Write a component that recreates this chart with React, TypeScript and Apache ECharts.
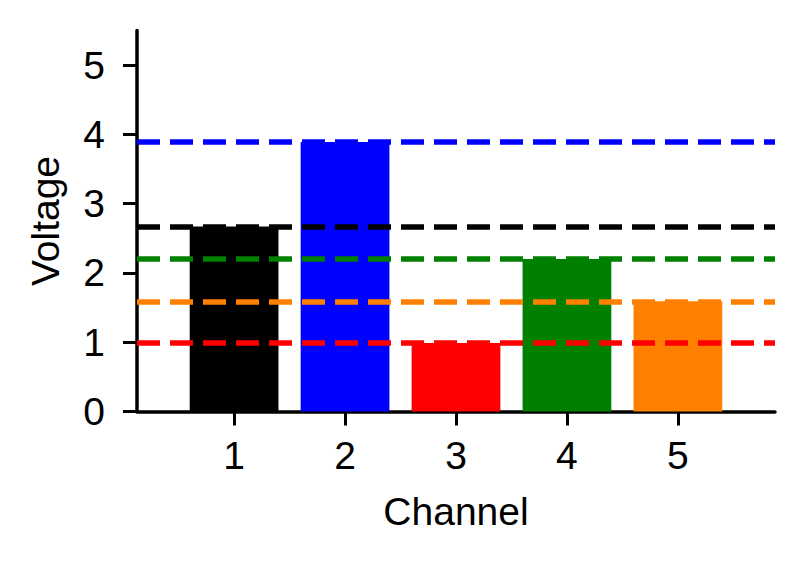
import React, { useEffect, useRef } from "react";
import * as echarts from "echarts";

const channels = [1, 2, 3, 4, 5];
const voltages = [2.67, 3.89, 0.99, 2.2, 1.59];
const barColors = ["#000000", "#0000ff", "#ff0000", "#008000", "#ff8000"];
const yTicks = [0, 1, 2, 3, 4, 5];

const FONT = "Liberation Sans, Arial, sans-serif";
const FS = 39;

export default function App() {
  const ref = useRef<HTMLDivElement>(null);
  useEffect(() => {
    if (!ref.current) return;
    const chart = echarts.init(ref.current, undefined, { renderer: "svg" });
    const gridLeft = 137;
    const gridRight = 29;
    const xMin = 0.125;
    const xMax = 5.875;
    const gridWidth = 804 - gridLeft - gridRight;
    const barWidth = (0.8 * gridWidth) / (xMax - xMin);
    const axisLine = { show: true, lineStyle: { color: "#000", width: 3.5 } };
    const axisTick = { show: true, length: 14, lineStyle: { color: "#000", width: 3 } };
    chart.setOption({
      animation: false,
      backgroundColor: "#ffffff",
      grid: { left: gridLeft, right: gridRight, top: 30.5, bottom: 152.5 },
      xAxis: {
        type: "value",
        min: xMin,
        max: xMax,
        name: "Channel",
        nameLocation: "middle",
        nameGap: 80,
        nameTextStyle: { color: "#000", fontSize: FS, fontFamily: FONT },
        axisLine,
        axisTick: { ...axisTick, customValues: channels },
        axisLabel: {
          customValues: channels,
          color: "#000",
          fontSize: FS,
          fontFamily: FONT,
          margin: 24,
        },
        splitLine: { show: false },
      },
      yAxis: {
        type: "value",
        min: 0,
        max: 5.5,
        name: "Voltage",
        nameLocation: "middle",
        nameGap: 72,
        nameTextStyle: { color: "#000", fontSize: FS, fontFamily: FONT },
        axisLine,
        axisTick: { ...axisTick, customValues: yTicks },
        axisLabel: {
          customValues: yTicks,
          color: "#000",
          fontSize: FS,
          fontFamily: FONT,
          margin: 32,
        },
        splitLine: { show: false },
      },
      series: [
        {
          type: "bar",
          barWidth,
          data: channels.map((c, i) => ({
            value: [c, voltages[i]],
            itemStyle: { color: barColors[i] },
          })),
          markLine: {
            silent: true,
            symbol: "none",
            label: { show: false },
            z: 10,
            data: voltages.map((v, i) => ({
              yAxis: v,
              lineStyle: { color: barColors[i], width: 5.5, type: [23, 10] },
            })),
          },
        },
      ],
    });
    return () => chart.dispose();
  }, []);
  return (
    <div
      ref={ref}
      style={{ position: "fixed", left: 0, top: 0, width: 804, height: 564 }}
    />
  );
}
